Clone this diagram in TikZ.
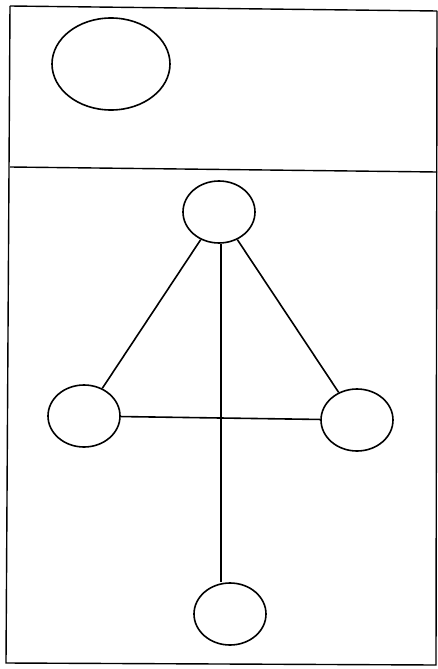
\documentclass[tikz,border=0pt]{standalone}
\usetikzlibrary{shapes.geometric}
\begin{document}
\begin{tikzpicture}[x=1pt,y=-1pt,
  vtx/.style={draw,ellipse,line width=1.6pt,minimum width=72pt,minimum height=62pt,inner sep=0pt},
  edge/.style={line width=1.6pt},
  frame/.style={line width=1.4pt}]
\useasboundingbox (0,0) rectangle (438,669);
\draw[frame] (10,6) -- (437,11);
\draw[frame] (10,6) -- (6,663) -- (436,665) -- (437,11);
\draw[frame] (10,167) -- (437,172);
\node[vtx,minimum width=118pt,minimum height=92pt] (big) at (111,64) {};
\node[vtx] (top) at (219,212) {};
\node[vtx] (left) at (84,416) {};
\node[vtx] (right) at (357,420) {};
\node[vtx] (bot) at (230,614) {};
\draw[edge] (top) -- (left);
\draw[edge] (top) -- (right);
\draw[edge] (left) -- (right);
\draw[edge] (top.south) ++(2,0) coordinate (vs) -- (vs |- bot.north);
\end{tikzpicture}
\end{document}
